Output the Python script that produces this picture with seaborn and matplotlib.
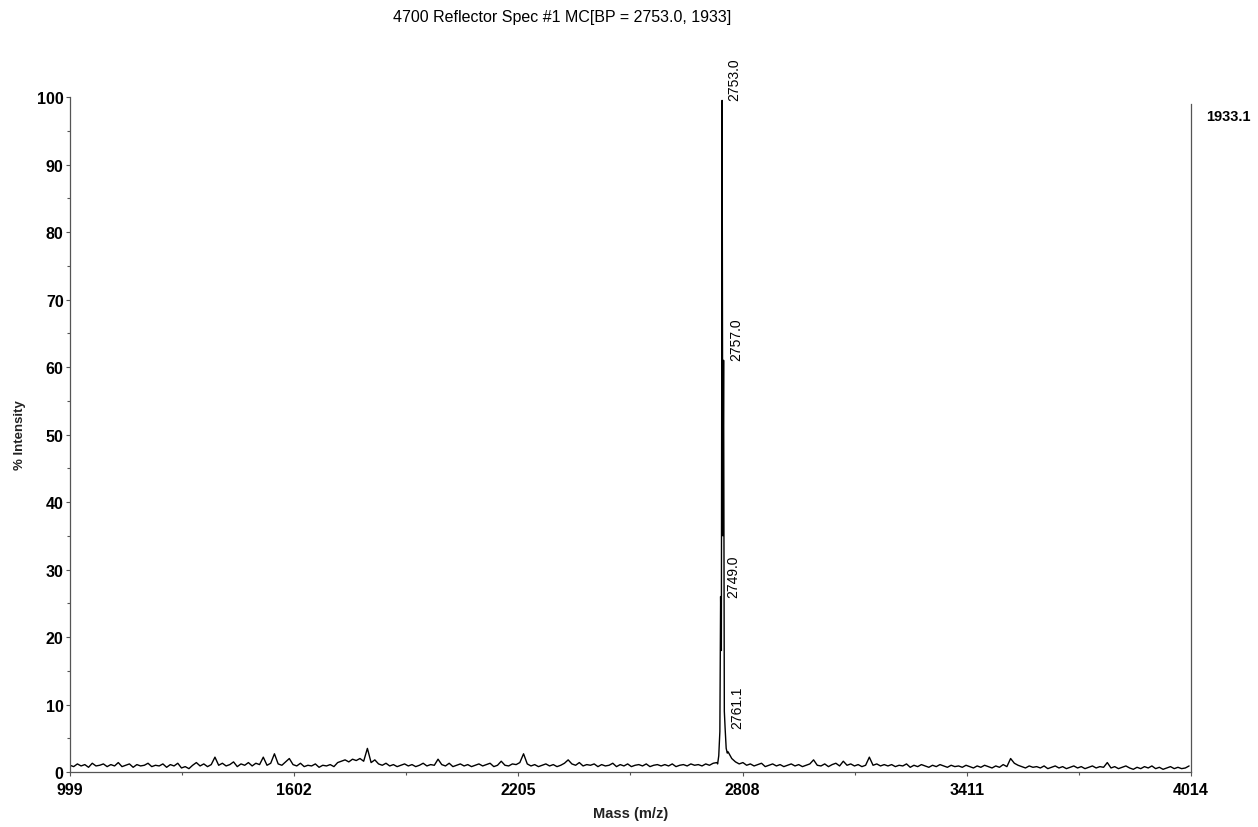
import numpy as np
import pandas as pd
import matplotlib
matplotlib.use("Agg")
import matplotlib.pyplot as plt
import seaborn as sns
from matplotlib.ticker import FixedLocator, MultipleLocator

# x ticks of the spectrum window
mass_ticks = [999, 1602, 2205, 2808, 3411, 4014]

# baseline noise, read every 10 Da from 999 to 4009
baseline_mz = np.arange(999, 4014, 10)
baseline_int = [
    1.0, 0.8, 1.2, 0.9, 1.1, 0.7, 1.3, 0.9, 1.0, 1.2, 0.8, 1.1, 0.9, 1.4, 0.8, 1.0, 1.2, 0.7, 1.1, 0.9,
    1.0, 1.3, 0.8, 1.0, 0.9, 1.2, 0.7, 1.1, 0.9, 1.3, 0.6, 0.8, 0.5, 1.0, 1.4, 0.9, 1.2, 0.8, 1.1, 2.2,
    1.0, 1.3, 0.9, 1.1, 1.5, 0.8, 1.2, 1.0, 1.4, 0.9, 1.3, 1.1, 2.2, 1.0, 1.3, 2.7, 1.2, 1.0, 1.5, 2.0,
    1.1, 0.9, 1.3, 0.8, 1.0, 0.9, 1.2, 0.7, 1.0, 0.9, 1.1, 0.8, 1.4, 1.6, 1.8, 1.5, 1.9, 1.7, 2.0, 1.6,
    3.5, 1.4, 1.8, 1.2, 1.0, 1.3, 0.9, 1.1, 0.8, 1.0, 1.2, 0.9, 1.1, 0.8, 1.0, 1.3, 0.9, 1.1, 1.0, 1.9,
    1.1, 0.9, 1.3, 0.8, 1.0, 1.2, 0.9, 1.1, 0.8, 1.0, 1.2, 0.9, 1.1, 1.3, 0.8, 1.0, 1.6, 1.0, 0.9, 1.2,
    1.1, 1.4, 2.7, 1.2, 0.9, 1.1, 0.8, 1.0, 1.2, 0.9, 1.1, 0.8, 1.0, 1.3, 1.8, 1.2, 1.0, 1.4, 0.9, 1.1,
    1.0, 1.2, 0.8, 1.1, 0.9, 1.0, 1.3, 0.8, 1.1, 0.9, 1.2, 0.8, 1.0, 1.1, 0.9, 1.2, 0.8, 1.0, 1.1, 0.9,
    1.1, 0.9, 1.2, 0.8, 1.0, 1.1, 0.9, 1.2, 1.0, 1.1, 0.9, 1.2, 1.0, 1.3, 1.4, 1.5, 1.0, 3.0, 2.0, 1.5,
    1.2, 1.4, 1.0, 1.2, 0.9, 1.1, 1.3, 0.8, 1.0, 1.2, 0.9, 1.1, 0.8, 1.0, 1.2, 0.9, 1.1, 0.8, 1.0, 1.2,
    1.8, 1.0, 0.9, 1.2, 0.8, 1.1, 1.3, 0.9, 1.6, 1.0, 1.2, 0.9, 1.1, 0.8, 1.0, 2.2, 1.0, 1.2, 0.9, 1.1,
    0.9, 1.1, 0.8, 1.0, 0.9, 1.2, 0.7, 1.0, 0.8, 1.1, 0.9, 0.7, 1.0, 0.8, 1.1, 0.9, 0.7, 1.0, 0.8, 0.9,
    0.7, 1.0, 0.8, 0.6, 0.9, 0.7, 1.0, 0.8, 0.6, 0.9, 0.7, 1.1, 0.8, 2.0, 1.3, 1.0, 0.8, 0.6, 0.9, 0.7,
    0.8, 0.6, 0.9, 0.5, 0.7, 0.9, 0.6, 0.8, 0.5, 0.7, 0.9, 0.6, 0.8, 0.5, 0.7, 0.9, 0.6, 0.8, 0.7, 1.4,
    0.6, 0.8, 0.5, 0.7, 0.9, 0.6, 0.4, 0.7, 0.5, 0.8, 0.6, 0.9, 0.5, 0.7, 0.4, 0.6, 0.8, 0.5, 0.7, 0.5,
    0.6, 0.9,
]

# isotope cluster around the base peak
cluster_mz = [2741, 2744, 2747, 2749.0, 2751, 2753.0, 2755, 2757.0, 2759, 2761.1, 2764, 2767]
cluster_int = [1.2, 2.4, 6.0, 26.0, 18.0, 99.5, 35.0, 61.0, 9.0, 6.5, 3.5, 2.8]

# labelled peaks
peak_mz = [2753.0, 2757.0, 2749.0, 2761.1]
peak_int = [99.5, 61.0, 26.0, 6.5]
peak_labels = ["2753.0", "2757.0", "2749.0", "2761.1"]

base_intensity_label = "1933.1"

base = pd.DataFrame({"mz": baseline_mz, "intensity": baseline_int})
base = base[(base["mz"] < 2740) | (base["mz"] > 2768)]
spec = pd.concat([base, pd.DataFrame({"mz": cluster_mz, "intensity": cluster_int})])
spec = spec.sort_values("mz").reset_index(drop=True)

sns.set_style("ticks")
plt.rcParams["font.family"] = ["Liberation Sans", "DejaVu Sans"]

fig = plt.figure(figsize=(12.58, 8.28), dpi=100)
ax = fig.add_axes([0.0556, 0.0664, 0.8911, 0.8152])

sns.lineplot(data=spec, x="mz", y="intensity", ax=ax, color="black",
             linewidth=1.0, estimator=None, sort=False)

ax.set_xlim(mass_ticks[0], mass_ticks[-1])
ax.set_ylim(0, 100)

ax.xaxis.set_major_locator(FixedLocator(mass_ticks))
ax.xaxis.set_minor_locator(FixedLocator(np.arange(mass_ticks[0], mass_ticks[-1] + 1, 301.5)))
ax.yaxis.set_major_locator(MultipleLocator(10))
ax.yaxis.set_minor_locator(MultipleLocator(5))
ax.tick_params(axis="both", which="major", length=3, width=0.8, color="#555555",
               labelsize=11.5, labelcolor="black")
ax.tick_params(axis="x", which="major", pad=4)
ax.tick_params(axis="y", which="major", pad=1.5)
ax.tick_params(axis="both", which="minor", length=2, width=0.8, color="#555555")
for lab in ax.get_xticklabels() + ax.get_yticklabels():
    lab.set_fontweight("bold")

for side in ["left", "bottom", "right"]:
    ax.spines[side].set_color("#555555")
    ax.spines[side].set_linewidth(0.9)
ax.spines["top"].set_visible(False)
ax.spines["right"].set_bounds(0, 99)

ax.set_xlabel("Mass (m/z)", fontsize=10.5, fontweight="bold", color="#222222", labelpad=7)
ax.set_ylabel("% Intensity", fontsize=9.5, fontweight="bold", color="#222222", labelpad=8)

for mz, inten, lab in zip(peak_mz, peak_int, peak_labels):
    ax.annotate(lab, xy=(mz, inten), xytext=(4, 0), textcoords="offset points",
                rotation=90, ha="left", va="bottom", fontsize=10, color="black",
                annotation_clip=False)

ax.annotate(base_intensity_label, xy=(mass_ticks[-1], 97.2), xytext=(11, 0),
            textcoords="offset points", ha="left", va="center", fontsize=10.5,
            fontweight="bold", color="black", annotation_clip=False)

fig.text(0.447, 0.979, "4700 Reflector Spec #1 MC[BP = 2753.0, 1933]",
         ha="center", va="center", fontsize=11.5, color="black")

fig.savefig("out.png", dpi=100)
